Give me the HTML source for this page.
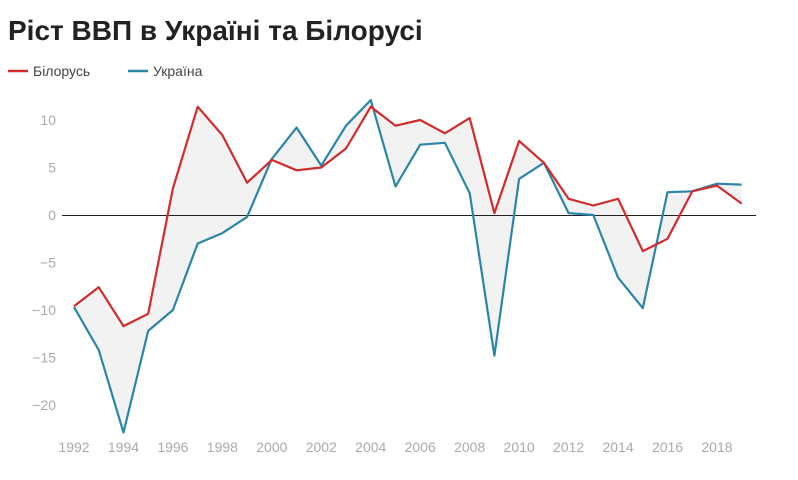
<!DOCTYPE html>
<html><head><meta charset="utf-8"><style>
body{margin:0;background:#fff;width:798px;height:475px;overflow:hidden;font-family:"Liberation Sans",sans-serif}
</style></head><body>
<svg id="s" width="798" height="475" xmlns="http://www.w3.org/2000/svg" font-family="Liberation Sans, sans-serif">
<text x="8" y="40" font-size="28" font-weight="bold" fill="#222">Ріст ВВП в Україні та Білорусі</text>
<line x1="8" y1="71" x2="28" y2="71" stroke="#d12b2b" stroke-width="2.5"/>
<text x="33" y="76" font-size="14" fill="#444">Білорусь</text>
<line x1="128" y1="71" x2="148" y2="71" stroke="#2a86a8" stroke-width="2.5"/>
<text x="153" y="76" font-size="14" fill="#444">Україна</text>
</svg>
<script>
var B=[-9.6,-7.6,-11.7,-10.4,2.8,11.4,8.4,3.4,5.8,4.7,5.0,7.0,11.4,9.4,10.0,8.6,10.2,0.2,7.8,5.5,1.7,1.0,1.7,-3.8,-2.5,2.5,3.1,1.2];
var U=[-9.7,-14.2,-22.9,-12.2,-10.0,-3.0,-1.9,-0.2,5.9,9.2,5.2,9.4,12.1,3.0,7.4,7.6,2.3,-14.8,3.8,5.5,0.2,0.0,-6.6,-9.8,2.4,2.5,3.3,3.2];
function X(i){return 74+i*24.73}function Y(v){return 215-v*9.5}
var s=document.getElementById('s'),h='';
var pb=B.map(function(v,i){return X(i).toFixed(1)+','+Y(v).toFixed(1)});
var pu=U.map(function(v,i){return X(i).toFixed(1)+','+Y(v).toFixed(1)});
h+='<polygon points="'+pb.join(' ')+' '+pu.slice().reverse().join(' ')+'" fill="#f2f2f2"/>';
[10,5,0,-5,-10,-15,-20].forEach(function(v){h+='<text x="56" y="'+(Y(v)+5)+'" font-size="14" fill="#aaa" text-anchor="end">'+(v<0?'−'+(-v):v)+'</text>'});
h+='<line x1="62" y1="215.5" x2="756" y2="215.5" stroke="#222" stroke-width="1"/>';
for(var y=1992;y<=2018;y+=2)h+='<text x="'+X(y-1992)+'" y="452" font-size="14" fill="#aaa" text-anchor="middle">'+y+'</text>';
h+='<polyline points="'+pu.join(' ')+'" fill="none" stroke="#2a86a8" stroke-width="2.2" stroke-linejoin="round"/>';
h+='<polyline points="'+pb.join(' ')+'" fill="none" stroke="#d12b2b" stroke-width="2.2" stroke-linejoin="round"/>';
s.insertAdjacentHTML('beforeend',h);
</script>
</body></html>
